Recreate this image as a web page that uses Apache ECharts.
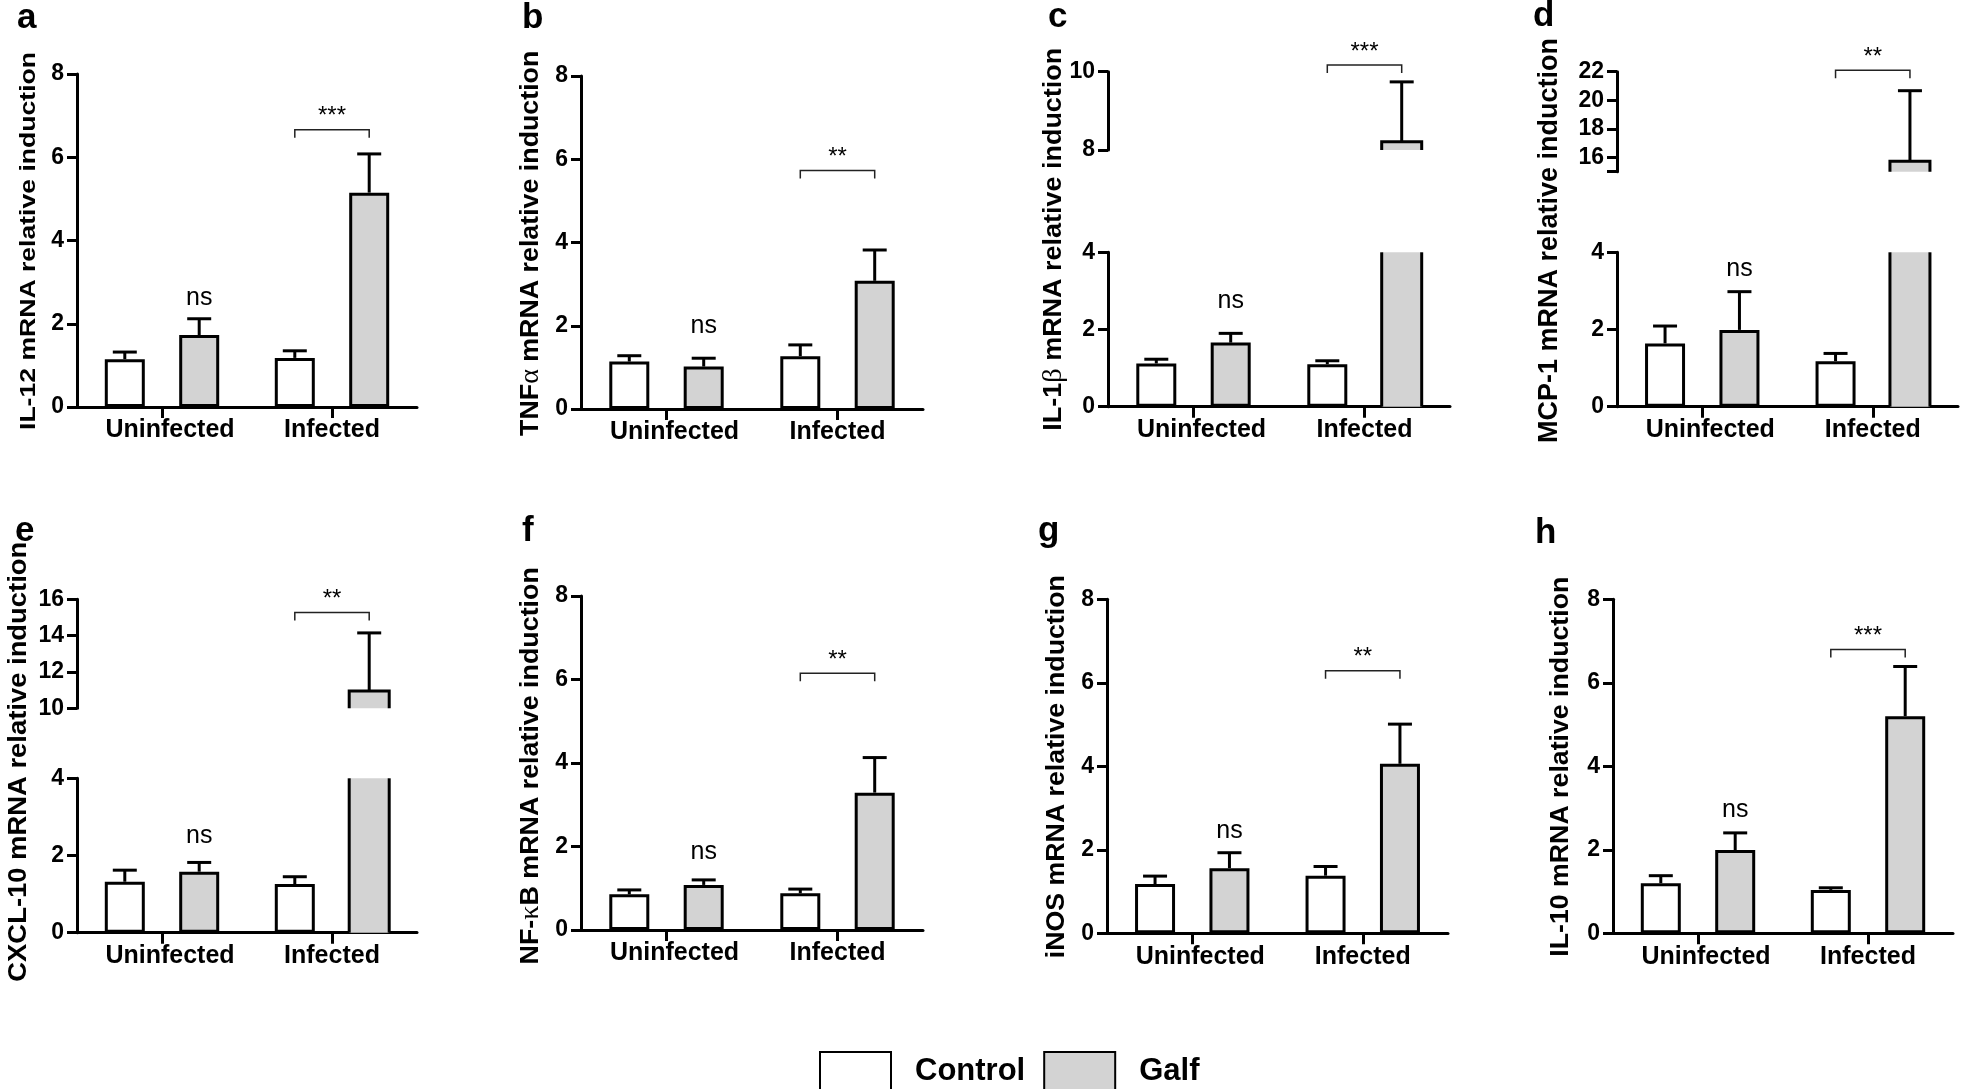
<!DOCTYPE html>
<html><head><meta charset="utf-8">
<script src="https://cdn.jsdelivr.net/npm/echarts@6/dist/echarts.min.js"></script>
<style>html,body{margin:0;padding:0;background:#fff}#chart{width:1962px;height:1089px}</style>
</head><body><div id="chart"></div>
<script>
// ---------------- DATA ----------------
const categories = ['Uninfected', 'Infected'];
const legendNames = ['Control', 'Galf'];

// a  IL-12
const il12Control = [1.15, 1.18];
const il12ControlSem = [0.17, 0.17];
const il12Galf = [1.73, 5.15];
const il12GalfSem = [0.39, 0.93];
// b  TNFα
const tnfControl = [1.14, 1.27];
const tnfControlSem = [0.14, 0.27];
const tnfGalf = [1.02, 3.08];
const tnfGalfSem = [0.20, 0.74];
// c  IL-1β
const il1bControl = [1.12, 1.10];
const il1bControlSem = [0.11, 0.09];
const il1bGalf = [1.66, 8.21];
const il1bGalfSem = [0.24, 1.53];
// d  MCP-1
const mcp1Control = [1.64, 1.18];
const mcp1ControlSem = [0.45, 0.20];
const mcp1Galf = [1.99, 15.74];
const mcp1GalfSem = [0.99, 4.93];
// e  CXCL-10
const cxcl10Control = [1.32, 1.26];
const cxcl10ControlSem = [0.30, 0.19];
const cxcl10Galf = [1.58, 10.95];
const cxcl10GalfSem = [0.24, 3.20];
// f  NF-κB
const nfkbControl = [0.855, 0.88];
const nfkbControlSem = [0.105, 0.10];
const nfkbGalf = [1.08, 3.29];
const nfkbGalfSem = [0.12, 0.84];
// g  iNOS
const inosControl = [1.18, 1.38];
const inosControlSem = [0.19, 0.22];
const inosGalf = [1.56, 4.06];
const inosGalfSem = [0.37, 0.95];
// h  IL-10
const il10Control = [1.20, 1.04];
const il10ControlSem = [0.18, 0.05];
const il10Galf = [1.995, 5.20];
const il10GalfSem = [0.41, 1.19];

// tick values / labels
const linearTicks = [0, 2, 4, 6, 8];
const brokenLowerTicks = [0, 2, 4];
const il1bUpperTicks = [8, 10];
const mcp1UpperTicks = [15, 16, 18, 20, 22];
const mcp1UpperLabels = [16, 18, 20, 22];
const cxcl10UpperTicks = [10, 12, 14, 16];

// significance annotations (levels in data units)
const panelLetters = ['a', 'b', 'c', 'd', 'e', 'f', 'g', 'h'];
const yTitles = ['IL-12 mRNA relative induction', 'TNFα mRNA relative induction',
  'IL-1β mRNA relative induction', 'MCP-1 mRNA relative induction',
  'CXCL-10 mRNA relative induction', 'NF-κB mRNA relative induction',
  'iNOS mRNA relative induction', 'IL-10 mRNA relative induction'];
const sigLabels = ['***', '**', '***', '**', '**', '**', '**', '***'];
const bracketLevels = [6.66, 5.73, 10.17, 22.1, 15.27, 6.15, 6.29, 6.80];
const nsLevels = [2.41, 1.78, 2.5, 3.33, 2.27, 1.64, 2.23, 2.73];

// ---------------- STYLE / LAYOUT ----------------
const FONT = '"Liberation Sans", Arial, Helvetica, sans-serif';
const BAR_W = 40, BAR_GAP = 0.86, OFFSET = BAR_W * (1 + BAR_GAP) / 2, CAP = 24;
const GALF_FILL = '#d3d3d3';

const panelData = [
  [il12Control, il12ControlSem, il12Galf, il12GalfSem],
  [tnfControl, tnfControlSem, tnfGalf, tnfGalfSem],
  [il1bControl, il1bControlSem, il1bGalf, il1bGalfSem],
  [mcp1Control, mcp1ControlSem, mcp1Galf, mcp1GalfSem],
  [cxcl10Control, cxcl10ControlSem, cxcl10Galf, cxcl10GalfSem],
  [nfkbControl, nfkbControlSem, nfkbGalf, nfkbGalfSem],
  [inosControl, inosControlSem, inosGalf, inosGalfSem],
  [il10Control, il10ControlSem, il10Galf, il10GalfSem]
];

const layouts = [
  {left: 77, width: 340, segs: [{top: 74, height: 333, ticks: linearTicks}]},
  {left: 581, width: 342, segs: [{top: 76, height: 333, ticks: linearTicks}]},
  {left: 1108, width: 342, segs: [{top: 252.3, height: 154.4, ticks: brokenLowerTicks},
                                  {top: 71.7, height: 78.3, ticks: il1bUpperTicks}]},
  {left: 1617, width: 341, segs: [{top: 252.3, height: 154.4, ticks: brokenLowerTicks},
                                  {top: 71.7, height: 100, ticks: mcp1UpperTicks, labels: mcp1UpperLabels}]},
  {left: 77, width: 340, segs: [{top: 778.3, height: 154.4, ticks: brokenLowerTicks},
                                {top: 599.3, height: 109, ticks: cxcl10UpperTicks}]},
  {left: 581, width: 342, segs: [{top: 596, height: 334, ticks: linearTicks}]},
  {left: 1107, width: 341, segs: [{top: 599.3, height: 334, ticks: linearTicks}]},
  {left: 1613, width: 340, segs: [{top: 599.3, height: 334, ticks: linearTicks}]}
];

// title layout: center x, center y, length, font size
const titleLayout = [
  [29, 241, 378, 22], [530.7, 243.3, 387, 25.5], [1054, 239.2, 385, 25.5], [1549.7, 240.5, 405, 27],
  [19, 761.7, 440, 26], [530.7, 765.8, 398, 25.5], [1057, 766.7, 383, 25.5], [1560.8, 766.7, 380, 25.5]
];
const letterLayout = [[17, 30], [522, 30], [1048, 29], [1533, 28], [15, 543], [522, 543], [1038, 543], [1535, 545]];

const lineStyle = {color: '#000', width: 3};

function renderErr(params, api) {
  const cat = api.value(0), side = api.value(1), mean = api.value(2), sem = api.value(3);
  const b = api.coord([cat, mean]), t = api.coord([cat, mean + sem]);
  const x = b[0] + (side === 0 ? -OFFSET : OFFSET);
  return {type: 'group', children: [
    {type: 'line', shape: {x1: x, y1: b[1], x2: x, y2: t[1]}, style: {stroke: '#000', lineWidth: 3}},
    {type: 'line', shape: {x1: x - CAP / 2, y1: t[1], x2: x + CAP / 2, y2: t[1]}, style: {stroke: '#000', lineWidth: 3}}
  ]};
}
function renderBrokenLower(params, api) {
  const cat = api.value(0);
  const b = api.coord([cat, api.value(1)]), t = api.coord([cat, api.value(2)]);
  const x = b[0] + OFFSET, l = x - BAR_W / 2, r = x + BAR_W / 2;
  return {type: 'group', children: [
    {type: 'rect', shape: {x: l, y: t[1], width: BAR_W, height: b[1] - t[1]}, style: {fill: GALF_FILL}},
    {type: 'line', shape: {x1: l, y1: b[1], x2: l, y2: t[1]}, style: {stroke: '#000', lineWidth: 3}},
    {type: 'line', shape: {x1: r, y1: b[1], x2: r, y2: t[1]}, style: {stroke: '#000', lineWidth: 3}}
  ]};
}
function renderBrokenUpper(params, api) {
  const cat = api.value(0);
  const b = api.coord([cat, api.value(1)]), t = api.coord([cat, api.value(2)]);
  const x = b[0] + OFFSET, l = x - BAR_W / 2, r = x + BAR_W / 2;
  return {type: 'group', children: [
    {type: 'rect', shape: {x: l, y: t[1], width: BAR_W, height: b[1] - t[1]}, style: {fill: GALF_FILL}},
    {type: 'polyline', shape: {points: [[l, b[1]], [l, t[1]], [r, t[1]], [r, b[1]]]},
     style: {stroke: '#000', lineWidth: 3, fill: null}}
  ]};
}
function makeBracketRenderer(label) {
  return function (params, api) {
    const p = api.coord([api.value(0), api.value(1)]);
    const x1 = p[0] - OFFSET, x2 = p[0] + OFFSET, y = p[1];
    return {type: 'group', children: [
      {type: 'polyline', shape: {points: [[x1, y + 8], [x1, y], [x2, y], [x2, y + 8]]},
       style: {stroke: '#222', lineWidth: 1.5, fill: null}},
      {type: 'text', x: p[0], y: y - 13, style: {text: label, fontSize: 24, fontFamily: FONT, fill: '#000',
        align: 'center', verticalAlign: 'middle', textAlign: 'center', textVerticalAlign: 'middle'}}
    ]};
  };
}
function renderNs(params, api) {
  const p = api.coord([api.value(0), api.value(1)]);
  return {type: 'text', x: p[0] + OFFSET, y: p[1] - 9, style: {text: 'ns', fontSize: 25, fontFamily: FONT, fill: '#000',
    align: 'center', verticalAlign: 'middle', textAlign: 'center', textVerticalAlign: 'middle'}};
}

const grids = [], xAxes = [], yAxes = [], series = [], graphics = [];

panelData.forEach((d, pi) => {
  const [ctrl, ctrlSem, galf, galfSem] = d;
  const L = layouts[pi];
  const broken = L.segs.length > 1;
  const gIdx = [];
  L.segs.forEach((s, si) => {
    const gi = grids.length;
    gIdx.push(gi);
    grids.push({left: L.left, top: s.top, width: L.width, height: s.height, containLabel: false});
    xAxes.push({
      gridIndex: gi, type: 'category', data: categories, show: si === 0,
      axisLine: {show: true, lineStyle: {color: '#000', width: 3}},
      axisTick: {show: true, alignWithLabel: true, interval: 0, length: 11, lineStyle: {color: '#000', width: 3}},
      axisLabel: {show: true, interval: 0, hideOverlap: false, margin: 11, fontSize: 25, fontWeight: 'bold',
        fontFamily: FONT, color: '#000',
        formatter: v => v === categories[0] ? '{u|' + v + '}' : v,
        rich: {u: {fontSize: 25, fontWeight: 'bold', fontFamily: FONT, color: '#000', padding: [0, 0, 0, 16]}}},
      splitLine: {show: false}
    });
    yAxes.push({
      gridIndex: gi, type: 'value', min: s.ticks[0], max: s.ticks[s.ticks.length - 1],
      axisLine: {show: true, lineStyle},
      axisTick: {show: true, length: 10, lineStyle, customValues: s.ticks},
      axisLabel: {show: true, customValues: s.labels || s.ticks, margin: 13, fontSize: 23, fontWeight: 'bold',
        fontFamily: FONT, color: '#000'},
      splitLine: {show: false}
    });
  });
  const g0 = gIdx[0], gTop = gIdx[gIdx.length - 1];
  series.push({type: 'bar', name: legendNames[0], xAxisIndex: g0, yAxisIndex: g0, data: ctrl,
    barWidth: BAR_W, barGap: (BAR_GAP * 100) + '%', silent: true,
    itemStyle: {color: '#ffffff', borderColor: '#000', borderWidth: 3}});
  series.push({type: 'bar', name: legendNames[1], xAxisIndex: g0, yAxisIndex: g0,
    data: broken ? [galf[0], '-'] : galf,
    barWidth: BAR_W, barGap: (BAR_GAP * 100) + '%', silent: true,
    itemStyle: {color: GALF_FILL, borderColor: '#000', borderWidth: 3}});
  const errLower = [[0, 0, ctrl[0], ctrlSem[0]], [1, 0, ctrl[1], ctrlSem[1]], [0, 1, galf[0], galfSem[0]]];
  if (!broken) errLower.push([1, 1, galf[1], galfSem[1]]);
  series.push({type: 'custom', xAxisIndex: g0, yAxisIndex: g0, data: errLower, encode: {x: 0, y: 2},
    renderItem: renderErr, silent: true, z: 5});
  if (broken) {
    const lowTicks = L.segs[0].ticks, upTicks = L.segs[1].ticks;
    series.push({type: 'custom', xAxisIndex: g0, yAxisIndex: g0,
      data: [[1, lowTicks[0], lowTicks[lowTicks.length - 1]]], encode: {x: 0, y: 2},
      renderItem: renderBrokenLower, silent: true, z: 3});
    series.push({type: 'custom', xAxisIndex: gTop, yAxisIndex: gTop,
      data: [[1, upTicks[0], galf[1]]], encode: {x: 0, y: 2},
      renderItem: renderBrokenUpper, silent: true, z: 3});
    series.push({type: 'custom', xAxisIndex: gTop, yAxisIndex: gTop,
      data: [[1, 1, galf[1], galfSem[1]]], encode: {x: 0, y: 2},
      renderItem: renderErr, silent: true, z: 5});
  }
  series.push({type: 'custom', xAxisIndex: gTop, yAxisIndex: gTop, data: [[1, bracketLevels[pi]]],
    encode: {x: 0, y: 1}, renderItem: makeBracketRenderer(sigLabels[pi]), silent: true, z: 6});
  series.push({type: 'custom', xAxisIndex: g0, yAxisIndex: g0, data: [[0, nsLevels[pi]]],
    encode: {x: 0, y: 1}, renderItem: renderNs, silent: true, z: 6});

  // y title
  const [cx, cy, len, fs] = titleLayout[pi];
  const ctx = document.createElement('canvas').getContext('2d');
  ctx.font = 'bold ' + fs + 'px "Liberation Sans"';
  const w = ctx.measureText(yTitles[pi]).width;
  const richText = yTitles[pi].replace(/([α-ω])/g, '{g|$1}');
  graphics.push({type: 'text', x: cx, y: cy, rotation: Math.PI / 2, scaleX: len / w, scaleY: 1, silent: true,
    style: {text: richText, fontSize: fs, fontWeight: 'bold', fontFamily: FONT, fill: '#000',
      align: 'center', verticalAlign: 'middle', textAlign: 'center', textVerticalAlign: 'middle',
      rich: {g: {fontSize: fs * 1.05, fontWeight: 'normal', fontFamily: '"Liberation Serif", "DejaVu Serif", serif', fill: '#000'}}}});
  // panel letter
  const [lx, ly] = letterLayout[pi];
  graphics.push({type: 'text', x: lx, y: ly - 12, silent: true,
    style: {text: panelLetters[pi], fontSize: 35, fontWeight: 'bold', fontFamily: FONT, fill: '#000',
      align: 'left', verticalAlign: 'middle', textAlign: 'left', textVerticalAlign: 'middle'}});
});

const chart = echarts.init(document.getElementById('chart'), null, {renderer: 'canvas'});
chart.setOption({
  backgroundColor: '#ffffff',
  animation: false,
  grid: grids, xAxis: xAxes, yAxis: yAxes, series: series,
  graphic: {elements: graphics},
  legend: {
    data: legendNames, left: 814, top: 1046, orient: 'horizontal', icon: 'rect',
    itemWidth: 71, itemHeight: 38, itemGap: 18, selectedMode: false,
    textStyle: {fontSize: 31, fontWeight: 'bold', fontFamily: FONT, color: '#000', padding: [0, 0, 0, 19]}
  }
});
</script></body></html>
